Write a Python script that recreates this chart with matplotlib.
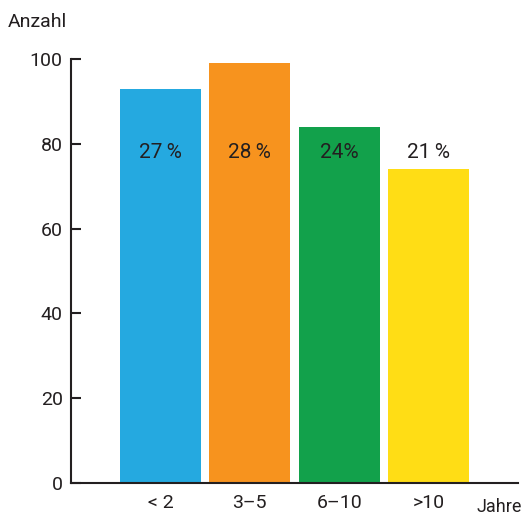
import matplotlib.pyplot as plt
import numpy as np

# data
categories = ["< 2", "3\u20135", "6\u201310", ">10"]
counts = [93, 99, 84, 74]
shares = ["27\u2009%", "28\u2009%", "24%", "21\u2009%"]
colors = ['#25a9e0', '#f7931e', '#12a14b', '#ffdd15']

plt.rcParams['font.family'] = ['Roboto', 'DejaVu Sans']
text_color = '#231f20'

fig = plt.figure(figsize=(5.25, 5.17), dpi=100)
ax = fig.add_axes([71 / 525, 34 / 517, (518 - 71) / 525, (483 - 59) / 517])

x = np.arange(len(categories))
ax.bar(x, counts, width=0.905, color=colors, zorder=2)

# share labels sit at a fixed height across the bars
for xi, s in zip(x, shares):
    ax.text(xi, 78, s, ha='center', va='center', fontsize=15, color=text_color, zorder=3)

ax.set_xlim(-1.0, 4.0)
ax.set_ylim(0, 100)
ax.set_yticks([0, 20, 40, 60, 80, 100])
ax.set_xticks(x)
ax.set_xticklabels(categories)

for side in ['top', 'right']:
    ax.spines[side].set_visible(False)
for side in ['left', 'bottom']:
    ax.spines[side].set_linewidth(1.5)
    ax.spines[side].set_color(text_color)

ax.tick_params(axis='y', direction='in', length=7, width=1.5, color=text_color,
               labelsize=14, labelcolor=text_color, pad=6)
ax.tick_params(axis='x', length=0, labelsize=14, labelcolor=text_color, pad=8)

fig.text(8 / 525, 1 - 22 / 517, "Anzahl", ha='left', va='center', fontsize=14, color=text_color)
fig.text(522 / 525, 1 - 507 / 517, "Jahre", ha='right', va='center', fontsize=13, color=text_color)

plt.savefig('out.png', dpi=100)
